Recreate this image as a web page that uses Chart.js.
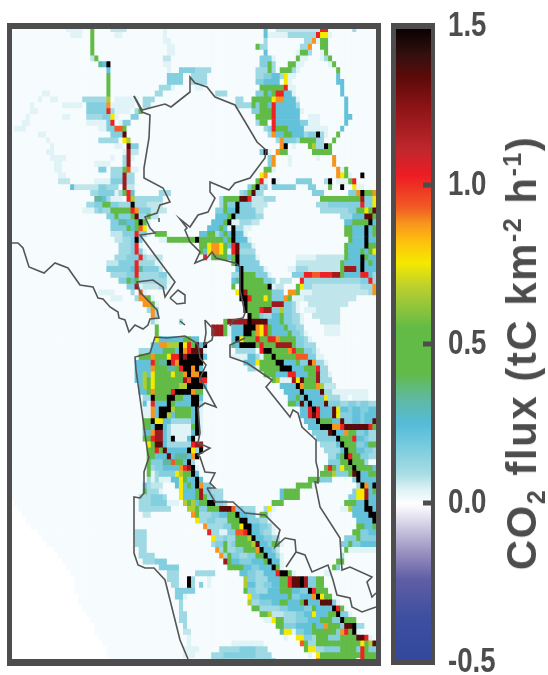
<!DOCTYPE html>
<html>
<head>
<meta charset="utf-8">
<title>CO2 flux map</title>
<script src="https://cdn.jsdelivr.net/npm/chart.js@4"></script>
<style>
  html, body { margin: 0; padding: 0; background: #fff; }
  #page { position: relative; width: 548px; height: 675px; overflow: hidden; }
  #mapWrap { position: absolute; left: 0; top: 0; width: 391px; height: 675px; }
  #barWrap { position: absolute; left: 385px; top: 0; width: 163px; height: 675px; }
  #barTitle {
    position: absolute; left: 522px; top: 353px; white-space: nowrap;
    transform: translate(-50%, -50%) rotate(-90deg);
    font: bold 42px "Liberation Sans", Arial, sans-serif; color: #4d4d4d; line-height: 1;
    letter-spacing: 1.5px;
  }
  #barTitle sub, #barTitle sup { font-size: 25px; line-height: 0; }
</style>
</head>
<body>
<div id="page">
  <div id="mapWrap"><canvas id="mapChart"></canvas></div>
  <div id="barWrap"><canvas id="barChart"></canvas></div>
  <div id="barTitle">CO<sub>2</sub> flux (tC km<sup>-2</sup> h<sup>-1</sup>)</div>
</div>
<script>
// flux value for each letter used in the rows below (tC km-2 h-1)
const fluxCodes = { a: 0.04, b: 0.07, c: 0.11, f: 0.16, d: 0.22, e: 0.33, g: 0.47, h: 0.66, y: 0.755, o: 0.88, q: 0.93, r: 1.02, s: 1.2, t: 1.34, k: 1.5 };
const backgroundFlux = 0.008;

// one string per grid row, "col" or "from-to" then a letter; later tokens win
const fluxRows = [
  "14-17a 20g 25-28b 38a 63d 66-76b 77-78r 85c",
  "15-17a 20g 26-27a 38a 63d 64-68a 69-75c 76r 77-78y 79a",
  "20g 38-39a 63c 73-74c 75o 76a 77-78g",
  "20g 39-40a 61g 62-63c 72-73c 74o 77-78g",
  "20g 39-40a 63d 71a 72-73g 74c 77a 78g",
  "20b 21g 38-39b 62-64f 65a 71g 72-73a 77a 78c 79g",
  "22e 23d 24k 38-39a 62-63f 64g 65c 69-70g 71-72a 79a 80g",
  "24d 39a 42-45f 46-49c 61-63c 64g 65c 67-69g 70c 71a 81g",
  "24g 39-42f 45-48c 61-62c 63-64f 65-66d 67c 68y 69-70a 81d",
  "24g 39-42f 45-48c 61-62f 63-66d 68y 69a 81-82d",
  "24g 37-39c 40a 46-47a 62-67g 68r 69-70a 82d",
  "8-9a 24g 36-37c 51-53c 61-62f 63g 64d 65g 66-67r 68-69d 70a 82d",
  "7a 10-11a 18-23c 24h 26-31a 33-35c 56-57c 60-64g 65y 66-67o 68-70d 71a 83d",
  "5a 13-17a 19-23f 24o 25-30a 33-34c 56-59c 60g 61f 62-63g 64d 65r 66-70d 71c 83d",
  "5-6a 19-23f 24r 25c 26-29a 31c 32g 60-61f 62-64g 65r 66-71d 72a 83d",
  "4a 13-14a 19-22c 23-24f 25y 26a 30-31f 61-64g 65r 66-71d 74-76a 83-84d",
  "3-4a 19-23a 24f 25r 27-27a 28-29f 61-62c 62-63g 65r 66-71d 72-73f 74-76a 83d",
  "1-3a 22-25a 24-25f 26-27q 28g 63-64c 64f 65r 66-68g 69-72d 73-78a 82d",
  "7-8a 25-27f 28t 64c 65o 66-68d 68-69g 70-72d 73c 74-75f 76k 77c 78a 81g",
  "9a 22-26c 28y 29h 66c 67o 68-70f 71c 72-75g 76-77c 80g",
  "10a 26-27a 29t 30-31f 67o 68k 70a 74g 75h 76-77c 78k 79g",
  "9-10a 28a 29s 30-31b 62f 63k 64a 66o 67-68g 75-79g",
  "10-13a 25a 28c 29s 30a 64f 65o 69a 76a 80o",
  "11-12a 21-24a 28c 29s 64f 65o 69a 80o",
  "11-12a 22-23f 25-27c 28g 29q 30-31a 63-64g 65a 81o 82a 83g",
  "12-13a 25-27c 28s 29-30c 62y 63o 81o 82y 83g 84a 87k",
  "12-14b 21-24a 25-27f 28s 29-30c 61g 62r 63a 65k 66a 71-74f 78c 79k 81-83a 84g 85r",
  "15d 16-18b 19-21b 22-23f 24-26c 28s 29-30b 59f 60g 61k 62c 63f 65-70f 74-75f 79g 82k 85y 86-87a",
  "20-21c 22-25f 26a 27c 28g 29r 30d 37-39c 57c 58-59f 59g 60t 61-62c 75-77f 84-85f 86o 87k 88-89g 90o",
  "21-22e 23d 24c 25-27a 29r 30h 31-37c 52c 53-56g 57-58t 59r 60-62b 63-65c 77-86g 87s 88-89f 90y",
  "19-20c 21-22f 23-24g 25-26f 27-29c 30k 31-33c 34-37b 52c 53g 54-55f 56k 57-59f 60-63b 76-78c 79-86f 87r 88-89f 90y",
  "18-20a 21c 22f 23-24c 25-29g 30r 31o 32-34f 35-38b 51-52f 53g 54-55d 56k 57-60f 61-62b 77-83c 84-85f 86-87g 88y 89g 90t",
  "24-25f 26g 27-29f 30g 31t 32-33c 34g 35-36b 51-53d 54g 55k 56-60f 61-62c 82-84c 85-87d 88-89t 90g",
  "25-26f 27-28e 29-30d 31g 32k 33g 34a 50-52d 53g 54k 55-56a 57-59c 60-61b 83-84d 85-88g 89k 90d",
  "25-28f 29g 30d 31g 32q 33y 34a 49-51d 52g 53d 54a 55k 56-57c 58-59a 83-84g 85-87d 88k 89d 90g",
  "25-27b 28-30f 31r 32-33f 34a 36-38g 47-48d 49-50g 51c 52d 53g 54d 55k 56-57d 58a 83-84g 85-87d 88k 89d 90g",
  "26-27b 28-29c 30f 31k 32f 37-38a 39-45g 46k 47-52g 53d 54g 55k 56-58d 59a 84g 85-87d 88k 89-90d",
  "27-29c 30f 31r 32a 47-48g 49y 50-51o 52y 53g 54d 55r 56t 57-59f 60a 83g 84-87d 88k 89-90g",
  "27-29c 30f 31r 32f 33a 47g 48d 49y 50-51o 52y 53g 54a 55r 56t 57-60c 83g 84-86d 87g 88d 89g 90y",
  "26-28c 29-31f 32r 33c 34-37b 48r 49a 50-53g 54d 55g 56k 57-60f 61a 71-75a 76-82b 83g 84-86d 87k 88g 89-90d",
  "24-26b 27-30f 31r 32-35c 36-37a 55g 56k 57-61f 71-74b 75-81b 82g 83-86d 87k 88d 89g 90d",
  "24-29f 30d 31r 32e 33-36f 37b 56d 57k 58-62f 63a 69-70a 71-73c 74-81b 82g 83-85s 86d 87k 88-89d 90d",
  "25-28c 29-30f 31r 32-36c 37-38f 39a 55-56c 57k 58-60g 61-63f 64a 70-72f 73-74r 75-76q 77-79r 80-81s 82g 83-86d 87-88r 89d 90c",
  "27-28f 29g 30d 31g 32c 33-38c 39a 55d 56e 57k 58-62g 63-64f 65c 67-69b 72r 73-86c 87-88f 89r 90c",
  "29-30f 31s 32a 33-36b 37-38c 55g 57k 58-63g 64k 65a 66-67b 71g 72y 73-74c 75-86b 87-89c 90o",
  "22-25a 30c 32q 33a 56y 57k 58s 59-64g 65-67f 69-70o 71g 72-74a 75-88b 89c 90o",
  "25-27a 31c 32-33o 34g 35a 57-58k 59r 60-62g 63y 64g 65-67f 68o 69g 70-72a 73-85b",
  "33-34o 35g 36a 58k 59-64g 65-67s 68-69f 70c 71a 74-83b",
  "34c 35o 36c 58k 59-61g 62r 63-64s 65-66f 67h 68-69f 70c 71a 73-75a 76-81b",
  "35o 36c 59k 60-61g 62f 63-64c 65-66d 67g 68-69f 70-71c 72a 75-81b",
  "35c 36a 42c 53g 54-58s 59k 60-63t 64-66d 67g 68-69f 70-71c 72a 77-81b",
  "36g 50-52s 53g 54a 55-57d 58-60k 61o 62y 63r 64g 65-67d 68g 69-70f 71-72c 78-81a",
  "36g 50-52s 53g 54a 55-57d 58-59k 60g 61o 62y 63r 64g 65-68d 69g 70-71f 72c 73a 78-81a",
  "36y 37-42d 43-44g 45-46d 55d 56k 57y 58-60g 61r 62-63g 64-65r 66o 67-70g 71-72f 73c 74a",
  "35-36d 37-38o 39-41h 42k 43y 44r 45g 46t 47d 48k 55e 56d 57-60k 61g 62r 63-65g 66-69s 70g 71-72f 73-75c",
  "32-34c 35-37d 38-40g 41d 42k 43o 44r 45-47t 48a 56-60c 62r 63-64k 65-68g 69o 70r 71-72g 73-74f 75c 76a",
  "32-34g 35o 36-38g 39y 40-41r 42k 43s 44-47k 48d 55-58a 59-60d 61c 62a 63g 64g 65k 66-70g 71-73q 74-75f 76-77a",
  "31-34d 35r 36g 37-38e 39k 40r 41o 42-47k 58-60d 61y 62-64g 65g 66-67k 68-70d 71g 72-73f 74t 75o 76-77c 78a",
  "31-34d 35o 36-38g 39-40e 41g 42r 43-46k 45o 47d 59-60c 61a 62-66g 67-69k 70-72d 73-75g 76r 77-78c",
  "31-32d 33h 34d 35y 36-39g 40y 41-42g 43o 44k 45-46o 47-48k 63-65g 66-68d 69-70r 71-73d 74-75g 76s 77-78c 79a",
  "31-32d 33h 34g 35y 36-41g 42g 43s 44q 45-46k 47-48r 65g 66h 67-69a 70s 71y 72t 73-75g 76s 77-79c",
  "32d 33h 34g 35y 36-41g 42-43h 44-47k 48d 67-70d 71k 72o 73-75g 76o 77h 78-80b",
  "32-33d 34g 35o 36-39g 40r 41-44k 45o 46-47g 68-71d 72k 73-76d 77t 78-79c 80-88a",
  "33-34c 35k 36-38g 39-40k 41-42g 43-44d 45-46k 47d 69-70d 71g 72d 73k 74-77d 78y 79-81c 82-83a 85-88a",
  "33d 34a 35r 36-38d 39k 40g 41-44d 45-46k 47c 69-70g 71d 72t 73d 74k 75-77d 78t 79-81f 82-83c 84-85f 86c 87-88f 89-90c",
  "33-34a 35o 36d 37-39k 40h 41-44g 45d 46k 47a 72-73d 74r 75k 76r 77-79d 80t 81y 82-83d 84f 85-86d 87-88f 89-90d",
  "33-34a 35o 36d 37-38k 39h 40d 41-44g 45d 46k 47a 72-73d 74r 75t 76r 77-79d 80t 81y 82-84f 85-86d 87f 88-90d",
  "33-34g 35k 36-37y 38-39d 40-44c 45d 46k 47a 73-75d 76k 77-79g 80-81d 82t 83-84f 85-86d 87f 88-89d 90t",
  "33-34g 35d 36-37k 38d 39c 40-44a 45g 46k 47a 74-76d 77-79k 80-81o 82r 83-88t 89r 90g",
  "33-34d 35o 36-37s 38d 39c 40-44a 45d 46k 47a 75-78f 79t 80k 81-82d 83o 84-85g 86-87f 88d 89-90c",
  "33-34g 35r 36-37s 38d 39c 40k 41-43a 44d 45k 46a 76-80f 81k 82-84g 85r 86-87d 88f 89-90c",
  "34y 35g 36-37t 38d 39-44c 45r 46-47s 77-80c 81d 82k 83-85g 86-87f 88d 89-90g",
  "34-35g 36r 37g 38t 39-43d 44k 45y 46c 47k 78-81c 82d 83k 84-85g 86-87d 88-89f 90c",
  "34-35g 36-38d 39t 40d 41-43e 44d 45o 46k 79-80c 81d 82g 83k 84r 85-86g 87-88f 89-90c",
  "34g 35-37f 38-39e 40q 41-42g 43d 44k 45c 79-81f 82-83g 84k 85-87g 88c",
  "34g 35c 36-37f 38-41d 42o 43r 44s 45k 46a 78g 79r 80g 81f 82y 83-84g 85k 86-89g 90d",
  "34g 35a 36c 37-40f 41y 42h 43-44g 45k 46d 77-79g 80h 81-83f 84g 85t 86k 87-88d 89-90g",
  "34c 35a 36c 37-39a 40-41d 42y 43g 44-45d 46k 47d 74-76g 77-79f 85f 86k 87-89d 90d",
  "33d 34c 35-37b 41d 42y 43d 44g 45d 46k 47o 48-49f 71-74g 75a 86c 87k 88o 89d 90k",
  "33g 34-36c 37a 42y 43-45d 46g 47s 48-49f 50-52c 67d 68-71g 85f 86-87y 88s 89d 90g",
  "32-34c 35-37f 38c 42y 43-45d 46g 47s 48g 49-50f 51-52c 67d 68-71g 84-85f 86-87y 88s 89d 90d",
  "32-34c 35-38f 39-41a 43h 44g 45h 46d 47-48g 49-50k 51-52f 53c 65-67g 83-85g 86-87d 88k 89-90d",
  "32-39c 44-45h 46g 47-48f 49-51g 52-54t 55q 56-57f 58-60c 63c 64y 65a 82-83a 84h 85-87d 88-89k 90d",
  "33-34b 45o 46g 47-49c 50-51f 52-53d 54-55g 56k 57-58d 59-60f 62-63g 64a 85-88d 89-90k",
  "46y 47-48c 49-50f 51-53c 54-56g 57-58k 59-61f 62-63c 64a 86-89d 90k",
  "48o 49-52c 53-54f 55-56g 57y 58-59k 60-61d 62-63f 64c 65a 86-87g 88-89d 90g",
  "31-33c 49r 50-51c 52-53a 54-55f 56-57q 58r 59k 60-61d 62f 63-64c 65a 85-86g 87-88f 89-90d",
  "31-33c 50y 51-52c 53f 54-55c 56-58g 59h 60k 61-62d 63-64f 65-66c 83-85f 86g 87-90f",
  "31-33c 50c 51-52f 53g 54c 55f 56-59g 60h 61t 62-63d 64f 65-66g 67a 82-83f 84g 85-86f 87-90d",
  "32-33c 51o 52c 53g 54-55c 56-57f 58-60g 61o 62k 63-64d 65f 66b 83g 84-90a",
  "32-35c 52o 53c 54g 55-56f 57-58c 59-60f 61-62g 63k 64-65d 66c 67a 82c",
  "33-35c 36-38f 53s 54g 55-56d 57-59f 60-62d 63g 64k 65-66d 67a 81-82g",
  "37-41f 54-57g 58-59d 60-61f 62-64d 65k 66g 67a 80g 81f",
  "39-41c 46-50c 57-58d 59-60f 61-62c 63-65d 66r 67-68k 69g 70a 78-79a",
  "39-41c 44k 45c 49a 58h 59-60f 61-63c 64-66d 67-68g 69r 70-71t 72k 73s 74-75f 76-77g",
  "40-41c 44k 45c 47f 49a 58h 59-60d 61-62c 63-64f 65-66d 67-68g 69r 70-71t 72k 73s 74-75f 76-77g",
  "41-45f 58g 59-60f 61-63c 64-66d 67-69g 70-71d 72-73f 74k 75r 76-78g",
  "41-42f 43a 59y 60-61f 62-64d 65-68d 69g 70-71f 72-74d 75o 76k 77y 78-79g",
  "42c 59h 60-61c 62-64f 65-66d 67-68g 69-71d 72g 73t 74-76d 77-79t 80f 81a",
  "42c 60-61g 62-63c 64-66c 67-68f 69-72d 73-74f 75g 76-79d 80k 81r 82g",
  "42-43c 62-63g 64h 65-67b 68-70c 71-72f 73-74d 75y 76-78d 79-80g 81k 82-83f 84a",
  "42-43c 63-64a 65y 66-67g 68-70c 71-73f 74-76d 77-79g 80-81f 82k 83-85g",
  "43c 66-67g 68-70f 71-74d 75g 76-77d 78o 79-81g 82f 83-84t 85k 86-87c",
  "43-44b 67e 68-69y 70a 71-72f 73-74d 75-80g 81f 82o 83r 84g 85k 86a",
  "44a 68a 71-72y 73-74f 75c 76-78g 79-81f 82-85g 86-87t 88r 89a",
  "44a 55-62a 72q 73g 74-75c 76-86g 87y 88g 89h 90t",
  "43-46a 52-56c 57-60f 61-63c 73g 74-75y 76-77c 78-81f 82-85g 86f 87r 88g 89-90f",
  "43-45a 50-52c 53-60f 61-64c 74a 76y 77-85g 86g 87r 88-90g",
  "50-65c 76o 77-85g 87r 88-90g"
];

// rows from 81 down: first column of the model domain, left of it is empty
const domainFirstRow = 81;
const domainFirstCol = [1, 2, 3, 4, 5, 7, 8, 9, 11, 12, 13, 14, 15, 16, 16, 16, 17, 17, 18, 19, 20, 21, 21, 22, 23, 24, 24, 25];

// shoreline traces, in map units
const coastNorth = [[134,96],[142,112],[150,115],[149,138],[144,168],[144,178],[163,188],[170,202],[160,205],[157,213],[145,217],[150,228],[155,233],[140,235],[160,262],[175,282],[165,297],[163,287],[153,280],[137,282],[140,292],[157,310],[159,318],[150,319],[148,325],[143,329],[135,325],[129,332],[125,320],[119,318],[118,312],[110,307],[103,299],[98,298],[93,287],[80,285],[68,268],[55,263],[44,273],[29,267],[23,248],[18,243],[12,243]];
const coastNapa = [[134,96],[142,110],[165,104],[171,107],[190,92],[190,77],[195,83],[207,87],[215,97],[235,105],[247,125],[257,142],[266,150],[265,158],[250,178],[235,183],[229,190],[210,182],[210,192],[215,198],[208,212],[198,215],[190,227],[180,219],[187,228],[185,230],[190,242],[200,252],[195,263],[207,258],[212,252],[216,258],[235,263],[240,267],[240,290],[245,313],[243,318],[233,320],[230,326]];
const coastEast = [[245,338],[230,345],[230,357],[247,363],[253,367],[272,380],[266,387],[290,417],[293,410],[298,413],[302,427],[316,440],[316,462],[318,470],[318,483],[315,482],[320,507],[340,538],[342,570],[350,567],[372,577],[367,582],[372,597],[376,593]];
const coastSouth = [[207,488],[215,502],[233,502],[245,513],[265,515],[280,530],[275,547],[285,538],[295,540],[296,552],[286,567],[296,552],[305,555],[312,572],[328,565],[333,580],[337,595],[350,598],[352,607],[362,612],[376,607]];
const coastOcean = [[195,342],[185,336],[167,338],[155,337],[150,353],[135,357],[136,370],[148,455],[149,457],[144,472],[144,493],[140,498],[134,497],[134,553],[138,565],[145,568],[154,568],[165,580],[180,640],[188,659]];
const coastPeninsula = [[195,342],[198,345],[200,358],[206,365],[200,378],[205,387],[216,407],[205,403],[198,408],[200,433],[198,443],[210,448],[198,455],[200,457],[205,472],[215,473],[210,483],[215,488],[207,488]];
const coastAlameda = [[205,320],[214,330],[212,340],[204,345],[206,333],[205,320]];
const coastIsland = [[170,298],[178,290],[185,295],[185,303],[177,304],[170,298]];
const coastRock = [[180,321],[185,325]];
const coastTick = [[159,218],[159,222]];
const coastLines = [coastNorth, coastNapa, coastEast, coastSouth, coastOcean, coastPeninsula, coastAlameda, coastIsland, coastRock, coastTick];

// colour bar
const barMin = -0.5;
const barMax = 1.5;
const barTicks = [-0.5, 0, 0.5, 1, 1.5];
const colourStops = [
  [-0.5, '#33479c'], [-0.36, '#3d4fa0'], [-0.24, '#5f5ea5'], [-0.157, '#9890bf'], [-0.085, '#c7c3de'], [-0.02, '#f5f3f9'],
  [0, '#ffffff'], [0.01, '#f4fbfc'], [0.04, '#e0f3f6'], [0.09, '#aadde4'], [0.2, '#6cc7dc'], [0.25, '#56bbd8'],
  [0.33, '#5fb9a0'], [0.41, '#62bb46'], [0.55, '#62bb46'], [0.68, '#bcd02e'], [0.755, '#f5e900'], [0.82, '#fec20e'],
  [0.88, '#f7941d'], [0.93, '#f15a24'], [1.03, '#ed1c24'], [1.11, '#c1272d'], [1.24, '#8e1416'], [1.34, '#5c0a0a'],
  [1.41, '#331010'], [1.5, '#050000']
];

const frameColor = '#4d4d4d';

function hexToRgb(h) {
  return [parseInt(h.slice(1, 3), 16), parseInt(h.slice(3, 5), 16), parseInt(h.slice(5, 7), 16)];
}

function fluxColor(v) {
  if (v === null) return '#ffffff';
  for (let i = 1; i < colourStops.length; i++) {
    if (v <= colourStops[i][0]) {
      const [v0, c0] = colourStops[i - 1];
      const [v1, c1] = colourStops[i];
      const t = (v - v0) / (v1 - v0);
      const a = hexToRgb(c0), b = hexToRgb(c1);
      return `rgb(${a.map((x, k) => Math.round(x + (b[k] - x) * t)).join(',')})`;
    }
  }
  return colourStops[colourStops.length - 1][1];
}

const nCols = 92;
const nRows = fluxRows.length;
const colLabels = Array.from({ length: nCols }, (_, i) => i);

function parseRow(text, r) {
  const cells = new Array(nCols).fill(backgroundFlux);
  const tokens = text.match(/\d+(?:-\d+)?[a-z]/g) || [];
  tokens.forEach(tok => {
    const m = tok.match(/(\d+)(?:-(\d+))?([a-z])/);
    const from = +m[1], to = m[2] ? +m[2] : from;
    for (let c = from; c <= to && c < nCols; c++) cells[c] = fluxCodes[m[3]];
  });
  if (r >= domainFirstRow) {
    for (let c = 0; c < domainFirstCol[r - domainFirstRow]; c++) cells[c] = null;
  }
  return cells;
}

// grid rows as floating bars, one dataset per row
const rowDatasets = fluxRows.map((text, r) => {
  const cells = parseRow(text, r);
  return {
    type: 'bar',
    order: 1,
    grouped: false,
    data: cells.map(v => (v === null ? null : [r, r + 1])),
    backgroundColor: cells.map(fluxColor),
    borderWidth: 0,
    barPercentage: 1,
    categoryPercentage: 1,
    xAxisID: 'x',
    yAxisID: 'y'
  };
});

const coastDatasets = coastLines.map(line => ({
  type: 'line',
  order: 0,
  data: line.map(([x, y]) => ({ x, y })),
  borderColor: '#555555',
  borderWidth: 1.6,
  pointRadius: 0,
  tension: 0,
  fill: false,
  xAxisID: 'mapX',
  yAxisID: 'mapY'
}));

const mapFrame = {
  id: 'mapFrame',
  afterDatasetsDraw(chart) {
    const ctx = chart.ctx;
    ctx.save();
    ctx.fillStyle = frameColor;
    ctx.fillRect(7, 23, 374, 6);
    ctx.fillRect(7, 659, 374, 7);
    ctx.fillRect(7, 23, 5, 643);
    ctx.fillRect(376, 23, 5, 643);
    ctx.restore();
  }
};

new Chart(document.getElementById('mapChart'), {
  data: { labels: colLabels, datasets: [...coastDatasets, ...rowDatasets] },
  options: {
    responsive: true,
    maintainAspectRatio: false,
    animation: false,
    events: [],
    layout: { padding: { left: 10, right: 10.2, top: 25.9, bottom: 11.45 } },
    plugins: { legend: { display: false }, tooltip: { enabled: false } },
    scales: {
      x: { type: 'category', display: false },
      y: { type: 'linear', display: false, min: 0, max: nRows, reverse: true },
      mapX: { type: 'linear', display: false, min: 10, max: 380.8 },
      mapY: { type: 'linear', display: false, min: 25.9, max: 663.55, reverse: true }
    }
  },
  plugins: [mapFrame]
});

const barFrame = {
  id: 'barFrame',
  afterDatasetsDraw(chart) {
    const ctx = chart.ctx, a = chart.chartArea, y = chart.scales.y;
    ctx.save();
    ctx.fillStyle = frameColor;
    ctx.fillRect(6, a.top - 3, 44, 6);
    ctx.fillRect(6, a.bottom - 3, 44, 6);
    ctx.fillRect(6, a.top - 3, 5, a.bottom - a.top + 6);
    ctx.fillRect(46, a.top - 3, 4, a.bottom - a.top + 6);
    barTicks.forEach(t => ctx.fillRect(38, y.getPixelForValue(t) - 2.5, 8, 5));
    ctx.restore();
  }
};

// the reference's tick labels are a condensed face, squeeze them around their left edge
const labelSqueeze = 0.79;
function squeezeLabels(scale) {
  if (scale._squeezed) return;
  scale._squeezed = true;
  const draw = scale.drawLabels;
  scale.drawLabels = function (area) {
    const ctx = this.ctx, x0 = this.left + this.options.ticks.padding;
    ctx.save();
    ctx.translate(x0, 0);
    ctx.scale(labelSqueeze, 1);
    ctx.translate(-x0, 0);
    draw.call(this, area);
    ctx.restore();
  };
}

new Chart(document.getElementById('barChart'), {
  type: 'bar',
  data: {
    labels: ['flux'],
    datasets: [{
      data: [[barMin, barMax]],
      borderWidth: 0,
      barPercentage: 1,
      categoryPercentage: 1,
      backgroundColor(c) {
        const area = c.chart.chartArea;
        if (!area) return '#888888';
        const g = c.chart.ctx.createLinearGradient(0, area.bottom, 0, area.top);
        colourStops.forEach(([v, col]) => g.addColorStop((v - barMin) / (barMax - barMin), col));
        return g;
      }
    }]
  },
  options: {
    responsive: true,
    maintainAspectRatio: false,
    animation: false,
    events: [],
    layout: { padding: { left: 9, top: 26, bottom: 13, right: 0 } },
    plugins: { legend: { display: false }, tooltip: { enabled: false } },
    scales: {
      x: { display: false },
      y: {
        position: 'right',
        min: barMin,
        max: barMax,
        afterFit(s) {
          s.width = 115;
          s.paddingTop = 0;
          s.paddingBottom = 0;
          squeezeLabels(s);
        },
        afterBuildTicks(s) { s.ticks = barTicks.map(value => ({ value })); },
        grid: { display: false, drawTicks: false },
        border: { display: false },
        ticks: {
          padding: 15,
          color: frameColor,
          autoSkip: false,
          maxRotation: 0,
          font: { family: '"Liberation Sans"', weight: 'bold', size: 35 },
          callback: v => v.toFixed(1)
        }
      }
    }
  },
  plugins: [barFrame]
});
</script>
</body>
</html>
